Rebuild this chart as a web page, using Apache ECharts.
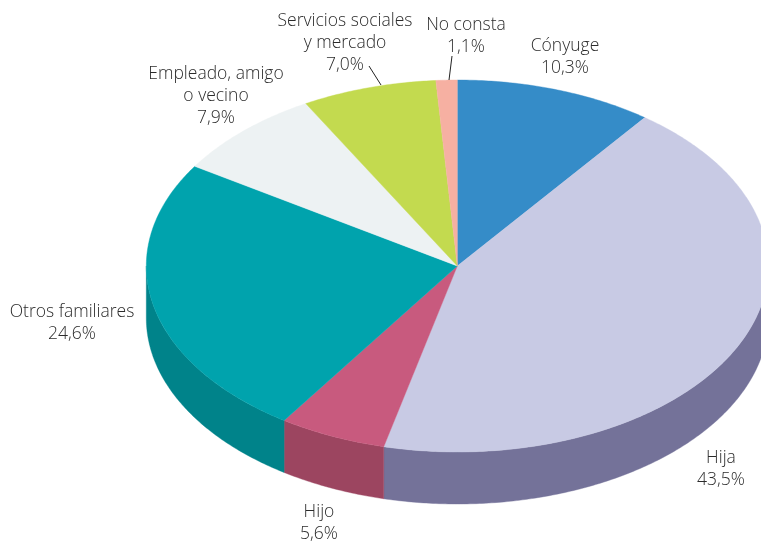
<!DOCTYPE html>
<html><head><meta charset="utf-8">
<style>html,body{margin:0;padding:0;background:#fff}#c{width:761px;height:544px}</style>
<script src="https://cdn.jsdelivr.net/npm/echarts@6/dist/echarts.min.js"></script>
</head><body><div id="c"></div>
<script>
var categories = ['Cónyuge','Hija','Hijo','Otros familiares','Empleado, amigo\no vecino','Servicios sociales\ny mercado','No consta'];
var values = [10.3,43.5,5.6,24.6,7.9,7.0,1.1];
var topColors = ['#358cc8','#c8cae4','#c85a7e','#00a3ad','#edf2f3','#c3da4f','#f6b0a2'];
var wallColors = ['#26668f','#747299','#9c4560','#00838a','#a9adae','#8b9c39','#b07e74'];
var labelCenters = [[565,57],[721,469],[319,523],[72,323],[216,96],[345,43],[466,36]];
var leaders = [null,null,null,null,null,[[369,66],[381,85]],[[452,56],[449,80]]];

var cx=457.3, cy=266, rx=311, ry=186, depth=52;
var total = values.reduce(function(a,b){return a+b;},0);
function pt(t,dy){return [cx+rx*Math.sin(t), cy-ry*Math.cos(t)+(dy||0)];}
function arc(a,b,dy){var n=Math.max(2,Math.ceil((b-a)/0.01)),o=[];for(var i=0;i<=n;i++){o.push(pt(a+(b-a)*i/n,dy));}return o;}
var starts=[],acc=0;
values.forEach(function(v){starts.push(acc);acc+=v;});
function angle(p){return p/total*Math.PI*2;}

function renderWall(params,api){
  var i=params.dataIndex,a=Math.max(angle(starts[i]),Math.PI/2),b=Math.min(angle(starts[i]+values[i]),Math.PI*1.5);
  if(b<=a)return {type:'group',children:[]};
  var pts=arc(a,b,0).concat(arc(a,b,depth).reverse());
  return {type:'polygon',shape:{points:pts},style:{fill:wallColors[i],stroke:wallColors[i],lineWidth:0.4}};
}
function renderTop(params,api){
  var i=params.dataIndex,a=angle(starts[i]),b=angle(starts[i]+values[i]);
  var pts=[[cx,cy]].concat(arc(a,b,0));
  return {type:'polygon',shape:{points:pts},style:{fill:topColors[i],stroke:topColors[i],lineWidth:0.4}};
}
function renderLabel(params,api){
  var i=params.dataIndex,c=labelCenters[i],kids=[];
  kids.push({type:'text',style:{x:c[0],y:c[1],text:categories[i]+'\n'+values[i].toFixed(1).replace('.',',')+'%',
    align:'center',verticalAlign:'middle',fontFamily:'Open Sans',fontWeight:300,fontSize:17.5,lineHeight:22,fill:'#2b2b2b'}});
  if(leaders[i]){kids.push({type:'line',shape:{x1:leaders[i][0][0],y1:leaders[i][0][1],x2:leaders[i][1][0],y2:leaders[i][1][1]},
    style:{stroke:'#222',lineWidth:1}});}
  return {type:'group',children:kids};
}
var seriesData = categories.map(function(n,i){return {name:n,value:values[i]};});
var chart = echarts.init(document.getElementById('c'),null,{renderer:'canvas'});
chart.setOption({
  animation:false,
  backgroundColor:'#fff',
  series:[
    {type:'custom',coordinateSystem:'none',renderItem:renderWall,data:seriesData,z:1,silent:true},
    {type:'custom',coordinateSystem:'none',renderItem:renderTop,data:seriesData,z:2,silent:true},
    {type:'custom',coordinateSystem:'none',renderItem:renderLabel,data:seriesData,z:3,silent:true}
  ]
});
</script></body></html>
